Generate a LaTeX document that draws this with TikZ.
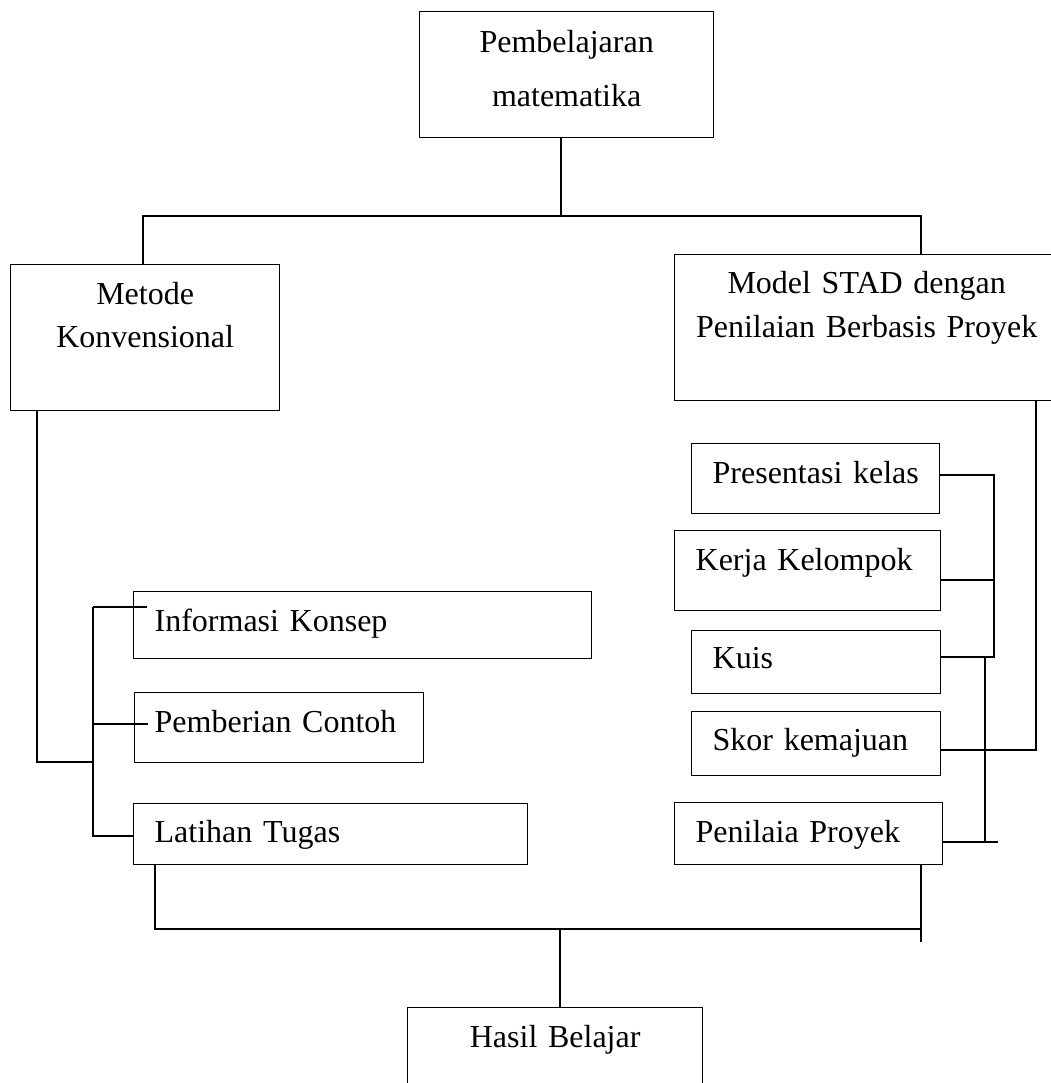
\documentclass[tikz,border=0pt]{standalone}
\usepackage{fontspec}
\setmainfont{Liberation Serif}
\begin{document}
\begin{tikzpicture}[x=0.375pt,y=-0.375pt,
    kotak/.style={draw,line width=0.5pt,anchor=north west,inner ysep=0pt,
      font=\fontsize{12}{14.5}\selectfont},
    tengah/.style={kotak,align=center,inner xsep=0pt},
    kiri/.style={kotak,align=left,inner xsep=7.875pt},
    garis/.style={line width=0.5pt}]
\useasboundingbox (0,0) rectangle (1051,1083);
\clip (0,0) rectangle (1051,1083);

% kotak atas dan dua cabang
\node[tengah,text width=110.25pt,text height=15.375pt,text depth=31.875pt] (atas) at (419,11) {Pembelajaran\\[5.75pt]matematika};
\node[tengah,text width=100.875pt,text height=15pt,text depth=39.75pt] (metode) at (10,264) {Metode\\[1.625pt]Konvensional};
\node[tengah,text width=144pt,text height=14.625pt,text depth=40.125pt] (stad) at (674,254) {Model STAD dengan\\[2pt]Penilaian Berbasis Proyek};

% langkah konvensional
\node[kiri,text width=156pt,text height=15pt,text depth=10.125pt] (info) at (133,591) {Informasi Konsep};
\node[kiri,inner xsep=7.5pt,text width=93.375pt,text height=15pt,text depth=11.25pt] (contoh) at (134,692) {Pemberian Contoh};
\node[kiri,text width=132pt,text height=14.625pt,text depth=8.25pt] (latihan) at (133,803) {Latihan Tugas};

% langkah STAD
\node[kiri,text width=77.25pt,text height=15pt,text depth=11.25pt] (presentasi) at (691,443) {\mbox{Presentasi kelas}};
\node[kiri,text width=84pt,text height=15pt,text depth=15pt] (kerja) at (674,530) {Kerja Kelompok};
\node[kiri,text width=77.625pt,text height=14.25pt,text depth=9.375pt] (kuis) at (691,630) {Kuis};
\node[kiri,text width=77.625pt,text height=14.625pt,text depth=9.375pt] (skor) at (691,711) {Skor kemajuan};
\node[kiri,text width=84.75pt,text height=15pt,text depth=8.25pt] (proyek) at (674,802) {Penilaia Proyek};

\node[tengah,text width=110.625pt,text height=15pt,text depth=19.875pt] (hasil) at (407,1007) {Hasil Belajar};

% titik simpul
\coordinate (jt) at (561,216);
\coordinate (jl) at (143,216);
\coordinate (jr) at (921,216);
\coordinate (mk) at (37,762);
\coordinate (bl1) at (93,607);
\coordinate (bl2) at (93,724);
\coordinate (bl3) at (93,836);
\coordinate (r1) at (994,475);
\coordinate (r2) at (994,580);
\coordinate (r3) at (994,657);
\coordinate (r4) at (985,842);
\coordinate (r5) at (1036,750);
\coordinate (b1) at (155,929);
\coordinate (b2) at (921,929);
\coordinate (b3) at (560,929);

\draw[garis] (atas.south -| jt) -- (jt);
\draw[garis] (metode.north -| jl) -- (jl) -- (jr) -- (stad.north -| jr);

\draw[garis] (metode.south -| mk) |- (mk -| bl1);
\draw[garis] (bl1) -- (bl3) -- (latihan.west |- bl3);
\draw[garis] (bl1) -- ([xshift=5.25pt]info.west |- bl1);
\draw[garis] (bl2) -- ([xshift=5.25pt]contoh.west |- bl2);

\draw[garis] (presentasi.east |- r1) -- (r1) -- (r3) -- (kuis.east |- r3);
\draw[garis] (kerja.east |- r2) -- (r2);
\draw[garis] (r4 |- r3) -- (r4);
\draw[garis] (proyek.east |- r4) -- ([xshift=4.875pt]r4);
\draw[garis] (stad.south -| r5) -- (r5) -- (skor.east |- r5);

\draw[garis] (latihan.south -| b1) -- (b1) -- (b2);
\draw[garis] (proyek.south -| b2) -- ([yshift=-4.875pt]b2);
\draw[garis] (b3) -- (hasil.north -| b3);
\end{tikzpicture}
\end{document}
